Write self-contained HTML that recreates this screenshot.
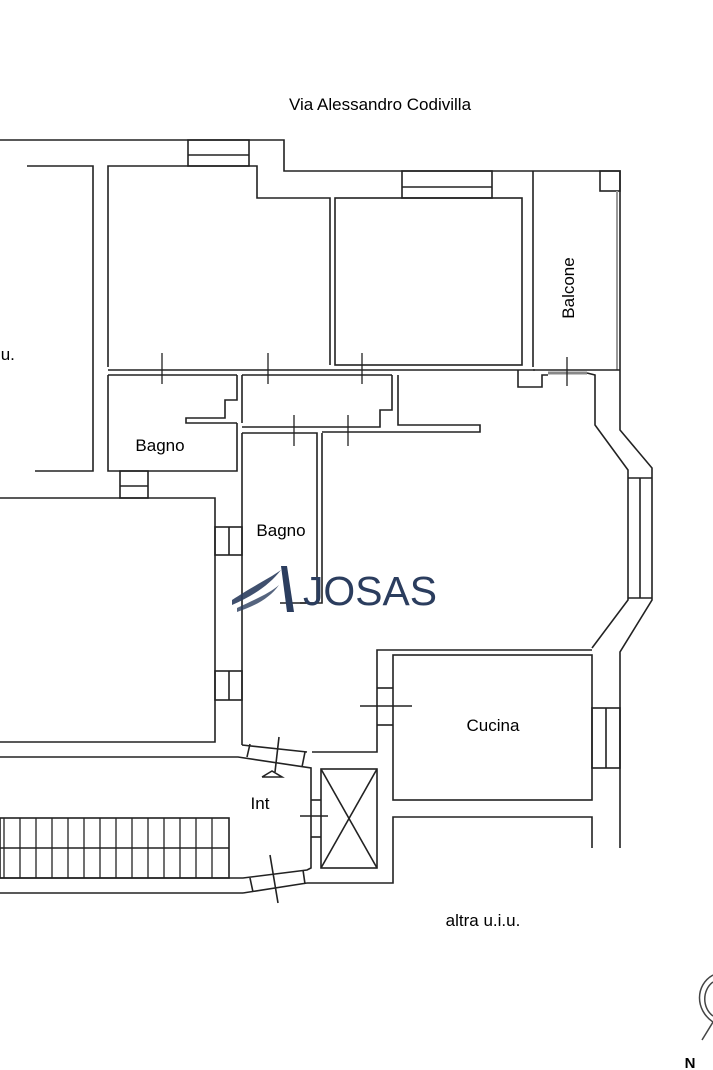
<!DOCTYPE html>
<html><head><style>
body{margin:0;background:#fff;}
svg{display:block;}
text{font-family:"Liberation Sans",Arial,sans-serif;fill:#000;}
</style></head><body>
<svg width="713" height="1070" viewBox="0 0 713 1070" xmlns="http://www.w3.org/2000/svg">
<g stroke="#222" stroke-width="1.6" fill="none">
<polyline points="0,140 284,140 284,171 620,171 620,370"/>
<polyline points="108,367 108,166 257,166 257,198 330,198 330,365"/>
<rect x="188" y="140" width="61" height="26"/><line x1="188" y1="155" x2="249" y2="155"/>
<polyline points="27,166 93,166 93,471 35,471"/>
<rect x="335" y="198" width="187" height="167"/>
<rect x="402" y="171" width="90" height="27"/><line x1="402" y1="187" x2="492" y2="187"/>
<line x1="533" y1="171" x2="533" y2="367"/>
<rect x="600" y="171" width="20" height="20"/>
<line x1="617" y1="191" x2="617" y2="370" stroke="#999" stroke-width="2"/>
<line x1="533" y1="370" x2="620" y2="370"/>
<line x1="108" y1="370" x2="535" y2="370"/>
<line x1="108" y1="375" x2="237" y2="375"/>
<line x1="242" y1="375" x2="392" y2="375"/>
<polyline points="398,375 398,425 480,425 480,432 340,432"/>
<polyline points="518,370 518,387 542,387 542,375 548,375"/>
<line x1="548" y1="373" x2="587" y2="373" stroke="#888" stroke-width="3"/>
<polyline points="108,375 108,471 237,471 237,423"/>
<polyline points="237,375 237,400 225,400 225,418 186,418 186,423 237,423"/>
<rect x="120" y="471" width="28" height="27"/><line x1="120" y1="486" x2="148" y2="486"/>
<polyline points="242,375 242,423"/>
<polyline points="392,375 392,410 380,410 380,427 242,427"/>
<polyline points="242,433 242,745"/>
<polyline points="242,433 317,433 317,603 280,603"/>
<polyline points="322,433 322,603 300,603"/>
<line x1="322" y1="432" x2="340" y2="432"/>
<polyline points="587,373 595,375 595,425 628,470 628,600 592,648"/>
<polyline points="620,370 620,430 652,468 652,600 620,652 620,848"/>
<line x1="628" y1="478" x2="652" y2="478"/><line x1="628" y1="598" x2="652" y2="598"/><line x1="640" y1="478" x2="640" y2="598"/>
<polyline points="592,650 377,650 377,752 312,752"/>
<rect x="393" y="655" width="199" height="145"/>
<rect x="592" y="708" width="28" height="60"/><line x1="606" y1="708" x2="606" y2="768"/>
<line x1="377" y1="688" x2="393" y2="688"/><line x1="377" y1="725" x2="393" y2="725"/>
<line x1="360" y1="706" x2="412" y2="706"/>
<polyline points="592,848 592,817 393,817 393,883 307,883"/>
<polyline points="0,498 215,498 215,742 0,742"/>
<rect x="215" y="527" width="27" height="28"/><line x1="229" y1="527" x2="229" y2="555"/>
<rect x="215" y="671" width="27" height="29"/><line x1="229" y1="671" x2="229" y2="700"/>
<polyline points="0,757 238,757 311,768 311,868 307,870 243,878 0,878"/>
<polyline points="242,745 307,752"/>
<line x1="250" y1="744" x2="247" y2="757"/><line x1="305" y1="752" x2="302" y2="767"/>
<line x1="279" y1="737" x2="275" y2="772"/>
<line x1="0" y1="893" x2="243" y2="893"/><line x1="243" y1="893" x2="307" y2="883"/>
<line x1="250" y1="878" x2="253" y2="892"/><line x1="303" y1="870" x2="305" y2="884"/>
<line x1="270" y1="855" x2="278" y2="903"/>
<line x1="311" y1="800" x2="321" y2="800"/><line x1="311" y1="837" x2="321" y2="837"/>
<line x1="300" y1="816" x2="328" y2="816"/>
<rect x="321" y="769" width="56" height="99"/>
<line x1="321" y1="769" x2="377" y2="868"/><line x1="377" y1="769" x2="321" y2="868"/>
<polyline points="262,777 272,771 282,777 262,777"/>
<rect x="0" y="818" width="229" height="60"/>
<line x1="0" y1="848" x2="229" y2="848"/>
</g>
<g stroke="#222" stroke-width="1.3">
<line x1="4" y1="818" x2="4" y2="878"/><line x1="20" y1="818" x2="20" y2="878"/><line x1="36" y1="818" x2="36" y2="878"/><line x1="52" y1="818" x2="52" y2="878"/><line x1="68" y1="818" x2="68" y2="878"/><line x1="84" y1="818" x2="84" y2="878"/><line x1="100" y1="818" x2="100" y2="878"/><line x1="116" y1="818" x2="116" y2="878"/><line x1="132" y1="818" x2="132" y2="878"/><line x1="148" y1="818" x2="148" y2="878"/><line x1="164" y1="818" x2="164" y2="878"/><line x1="180" y1="818" x2="180" y2="878"/><line x1="196" y1="818" x2="196" y2="878"/><line x1="212" y1="818" x2="212" y2="878"/>
<line x1="162" y1="353" x2="162" y2="384"/><line x1="268" y1="353" x2="268" y2="384"/><line x1="362" y1="353" x2="362" y2="384"/>
<line x1="294" y1="415" x2="294" y2="446"/><line x1="348" y1="415" x2="348" y2="446"/>
<line x1="567" y1="357" x2="567" y2="386"/>
</g>
<text x="380" y="110" font-size="17" text-anchor="middle">Via Alessandro Codivilla</text>
<text x="-4" y="360" font-size="17">.u.</text>
<text x="160" y="451" font-size="17" text-anchor="middle">Bagno</text>
<text x="281" y="536" font-size="17" text-anchor="middle">Bagno</text>
<text x="574" y="288" font-size="17" text-anchor="middle" transform="rotate(-90 574 288)">Balcone</text>
<text x="493" y="731" font-size="17" text-anchor="middle">Cucina</text>
<text x="260" y="809" font-size="17" text-anchor="middle">Int</text>
<text x="483" y="926" font-size="17" text-anchor="middle">altra u.i.u.</text>
<text x="690" y="1068" font-size="15" text-anchor="middle" font-weight="bold">N</text>
<path d="M713,975 C695,985 695,1010 713,1022" stroke="#444" stroke-width="1.5" fill="none"/>
<path d="M713,982 C702,990 702,1008 713,1016" stroke="#444" stroke-width="1.5" fill="none"/>
<line x1="713" y1="1022" x2="702" y2="1040" stroke="#444" stroke-width="1.5"/>
<g fill="#2b3d5e" stroke="none">
<path d="M281,566 L287,566 L294,612 L287,612 Z"/>
<path d="M232,600 C255,585 270,578 281,570 C270,584 255,595 232,605 Z" opacity="0.9"/>
<path d="M237,608 C258,598 270,593 279,585 C270,598 255,606 237,612 Z" opacity="0.8"/>
</g>
<text x="303" y="605" font-size="41" textLength="134" lengthAdjust="spacingAndGlyphs" style="fill:#2b3d5e">JOSAS</text>
</svg>
</body></html>
